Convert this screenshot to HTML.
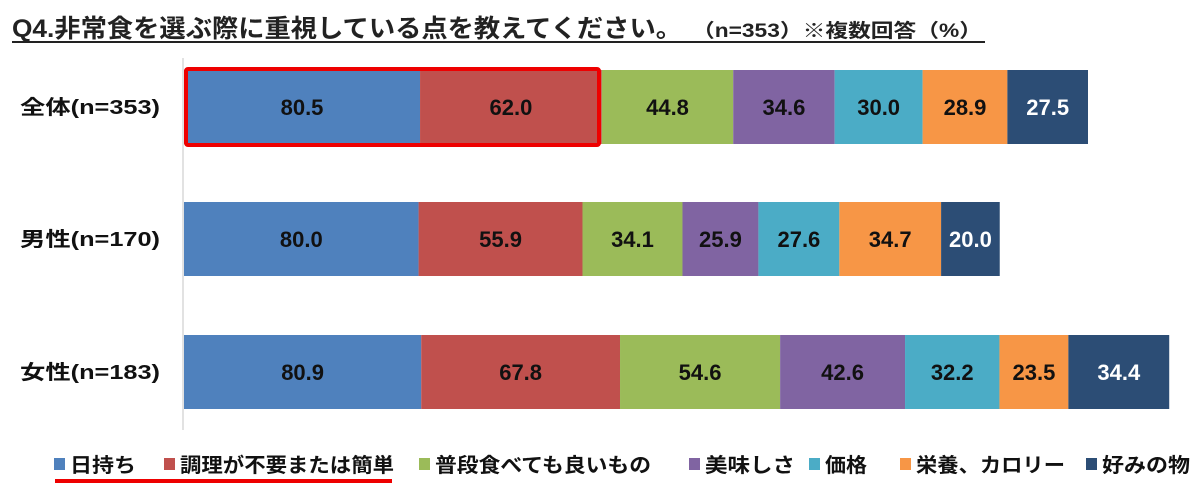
<!DOCTYPE html>
<html><head><meta charset="utf-8"><style>
body{margin:0;background:#fff;}
svg{display:block;font-family:"Liberation Sans","Noto Sans CJK JP",sans-serif;}
</style></head><body>
<svg id="chart" width="1200" height="494" viewBox="0 0 1200 494">
<text x="12" y="37" font-size="25" font-weight="bold" fill="#222" textLength="670" lengthAdjust="spacingAndGlyphs">Q4.非常食を選ぶ際に重視している点を教えてください。</text>
<text x="692" y="37" font-size="19" font-weight="bold" fill="#222" textLength="290" lengthAdjust="spacingAndGlyphs">（n=353）※複数回答（%）</text>
<line x1="12" y1="42" x2="985" y2="42" stroke="#222" stroke-width="2"/>
<line x1="183" y1="58" x2="183" y2="430" stroke="#d9d9d9" stroke-width="1.5"/>
<g id="bars"></g>
<g id="legend"></g>
<rect x="186" y="69" width="413" height="76" fill="none" stroke="#e00" stroke-width="4" rx="2"/>
<line x1="55" y1="481" x2="392" y2="481" stroke="#e00" stroke-width="4"/>
</svg>
<script>
const categories=["全体(n=353)","男性(n=170)","女性(n=183)"];
const seriesNames=["日持ち","調理が不要または簡単","普段食べても良いもの","美味しさ","価格","栄養、カロリー","好みの物"];
const colors=["#4f81bd","#c0504d","#9bbb59","#8064a2","#4bacc6","#f79646","#2c4d75"];
const s1=[80.5,80.0,80.9];
const s2=[62.0,55.9,67.8];
const s3=[44.8,34.1,54.6];
const s4=[34.6,25.9,42.6];
const s5=[30.0,27.6,32.2];
const s6=[28.9,34.7,23.5];
const s7=[27.5,20.0,34.4];
const series=[s1,s2,s3,s4,s5,s6,s7];
const NS="http://www.w3.org/2000/svg";
const x0=184, pxPerUnit=904/308.3;
const xs=v=>x0+v*pxPerUnit;
const rowY=[70,202,335], barH=74;
const bars=document.getElementById('bars');
categories.forEach((c,i)=>{
  const t=document.createElementNS(NS,'text');
  
  
  t.setAttribute('x',160);t.setAttribute('y',rowY[i]+barH/2+7);
  t.setAttribute('text-anchor','end');t.setAttribute('font-size','20');t.setAttribute('font-weight','bold');t.setAttribute('fill','#111');
  t.setAttribute('textLength','140');t.setAttribute('lengthAdjust','spacingAndGlyphs');
  t.textContent=c;bars.appendChild(t);
  let cum=0;
  series.forEach((s,j)=>{
    const v=s[i];
    const r=document.createElementNS(NS,'rect');
    
    
    r.setAttribute('x',xs(cum));r.setAttribute('y',rowY[i]);
    r.setAttribute('width',xs(cum+v)-xs(cum));r.setAttribute('height',barH);
    r.setAttribute('fill',colors[j]);bars.appendChild(r);
    const l=document.createElementNS(NS,'text');
    
    
    l.setAttribute('x',(xs(cum)+xs(cum+v))/2);l.setAttribute('y',rowY[i]+barH/2+8);
    l.setAttribute('text-anchor','middle');l.setAttribute('font-size','22');l.setAttribute('font-weight','bold');
    l.setAttribute('fill',j===6?'#fff':'#111');
    l.textContent=v.toFixed(1);bars.appendChild(l);
    cum+=v;
  });
});
const legX=[54,164,419,689,809,900,1086];
const legW=[66,214,216,90,42,149,88];
const leg=document.getElementById('legend');
seriesNames.forEach((n,j)=>{
  const r=document.createElementNS(NS,'rect');
  
  
  r.setAttribute('x',legX[j]);r.setAttribute('y',458);r.setAttribute('width',11);r.setAttribute('height',12);r.setAttribute('fill',colors[j]);
  leg.appendChild(r);
  const t=document.createElementNS(NS,'text');
  
  
  t.setAttribute('x',legX[j]+16);t.setAttribute('y',472);t.setAttribute('font-size','20');t.setAttribute('font-weight','bold');t.setAttribute('fill','#111');
  t.setAttribute('textLength',legW[j]);t.setAttribute('lengthAdjust','spacingAndGlyphs');
  t.textContent=n;leg.appendChild(t);
});
</script>
</body></html>
